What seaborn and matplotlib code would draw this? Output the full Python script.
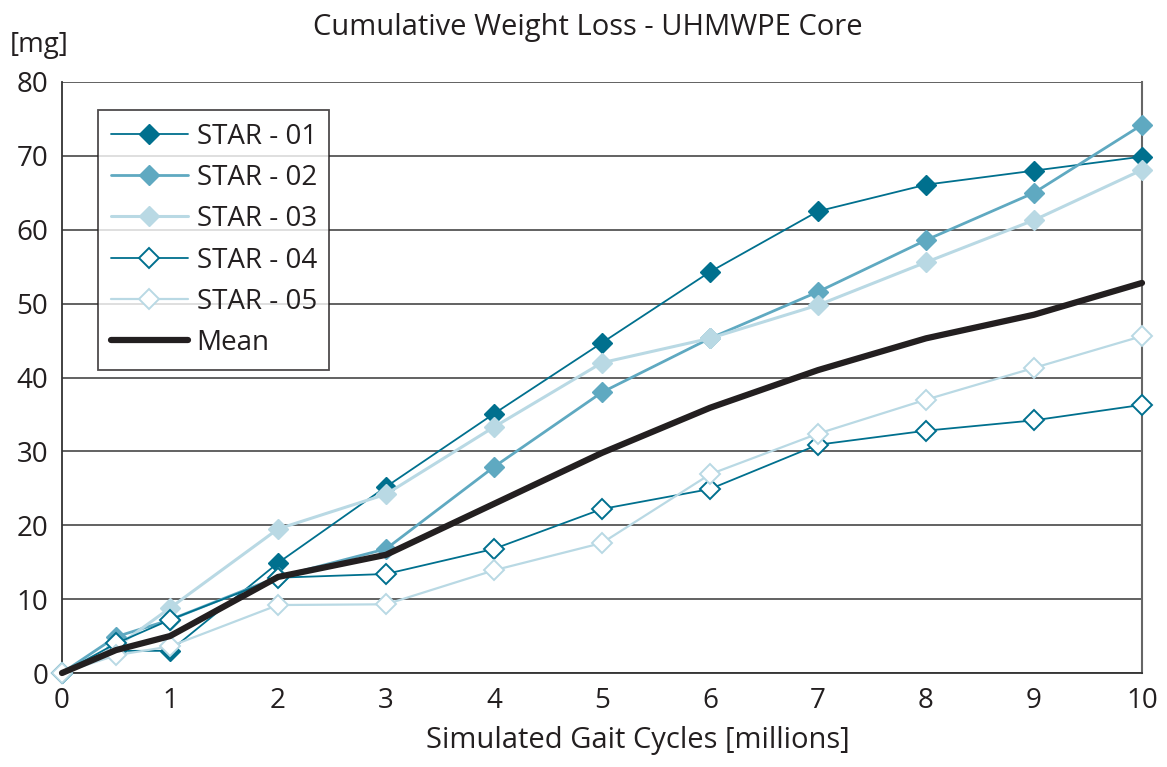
import numpy as np
import pandas as pd
import seaborn as sns
import matplotlib.pyplot as plt

sns.set_style("white")
plt.rcParams["font.family"] = ["Open Sans", "DejaVu Sans"]

# ===================== DATA =====================
cycles = [0, 0.5, 1, 2, 3, 4, 5, 6, 7, 8, 9, 10]

star_01 = [0, 3.0, 3.0, 14.9, 25.2, 35.1, 44.7, 54.3, 62.5, 66.1, 68.0, 69.9]
star_02 = [0, 4.9, 7.2, 13.0, 16.8, 27.9, 38.0, 45.3, 51.6, 58.6, 65.0, 74.2]
star_03 = [0, 3.5, 8.8, 19.5, 24.2, 33.3, 42.0, 45.3, 49.8, 55.6, 61.3, 68.1]
star_04 = [0, 4.0, 7.2, 12.9, 13.4, 16.8, 22.2, 24.9, 30.9, 32.8, 34.2, 36.3]
star_05 = [0, 2.4, 3.6, 9.2, 9.3, 13.9, 17.6, 26.9, 32.4, 37.0, 41.3, 45.6]
mean = [0, 3.1, 5.0, 13.0, 16.0, 22.9, 29.8, 35.9, 41.0, 45.3, 48.5, 52.8]

labels = ["STAR - 01", "STAR - 02", "STAR - 03", "STAR - 04", "STAR - 05", "Mean"]

# ===================== STYLES =====================
dark = "#00708E"
mid = "#5FA9C1"
light = "#B9D9E4"
styles = {
    "STAR - 01": dict(color=dark, lw=1.3, marker="D", mfc=dark, mec=dark, ms=10),
    "STAR - 02": dict(color=mid, lw=2.0, marker="D", mfc=mid, mec=mid, ms=10),
    "STAR - 03": dict(color=light, lw=2.2, marker="D", mfc=light, mec=light, ms=10),
    "STAR - 04": dict(color=dark, lw=1.3, marker="D", mfc="white", mec=dark, ms=10, mew=1.4),
    "STAR - 05": dict(color=light, lw=1.6, marker="D", mfc="white", mec=light, ms=10, mew=1.4),
    "Mean": dict(color="#231F20", lw=4.5, marker=None),
}

df = pd.DataFrame({
    "cycles": cycles * 6,
    "loss": star_01 + star_02 + star_03 + star_04 + star_05 + mean,
    "series": [l for l in labels for _ in cycles],
})

# ===================== PLOT =====================
fig = plt.figure(figsize=(11.67, 7.67), dpi=100)
ax = fig.add_axes([62 / 1167, 1 - 673 / 767, 1080 / 1167, 591 / 767])

for name in labels:
    s = styles[name]
    sub = df[df["series"] == name]
    sns.lineplot(data=sub, x="cycles", y="loss", ax=ax, label=name,
                 color=s["color"], lw=s["lw"], marker=s["marker"],
                 markerfacecolor=s.get("mfc"), markeredgecolor=s.get("mec"),
                 markersize=s.get("ms", 0), markeredgewidth=s.get("mew", 1),
                 clip_on=False, zorder=3)

ax.set_xlim(0, 10)
ax.set_ylim(0, 80)
ax.set_xticks(range(0, 11))
ax.set_yticks(range(0, 81, 10))
ax.yaxis.grid(True, color="#555555", lw=1.3)
ax.set_axisbelow(True)

for side in ["left", "bottom"]:
    ax.spines[side].set_color("#333333")
    ax.spines[side].set_linewidth(1.3)
ax.spines["right"].set_color("#666666")
ax.spines["right"].set_linewidth(1.5)
ax.spines["top"].set_visible(False)

ax.tick_params(axis="both", labelsize=20, colors="#231F20", length=5,
               width=1.2, direction="out", pad=5)
ax.tick_params(axis="both", color="#333333")

ax.set_xlabel("Simulated Gait Cycles [millions]", fontsize=21, color="#231F20", labelpad=8)
ax.xaxis.label.set_x(0.533)
ax.set_ylabel("")
fig.text(10 / 1167, 1 - 45 / 767, "[mg]", fontsize=20, color="#231F20", va="center")
fig.suptitle("Cumulative Weight Loss - UHMWPE Core", x=588 / 1167, y=1 - 27 / 767,
             va="center", fontsize=21, color="#231F20")

leg = ax.legend(loc="upper left", bbox_to_anchor=(36 / 1080, 1 - 28 / 591),
                borderaxespad=0, fontsize=20, frameon=True, fancybox=False,
                edgecolor="#231F20", handlelength=2.8, handletextpad=0.3,
                labelspacing=0.48, borderpad=0.45, markerscale=1.0)
leg.get_frame().set_linewidth(1.3)
for t in leg.get_texts():
    t.set_color("#231F20")

fig.savefig("out.png", dpi=100)
